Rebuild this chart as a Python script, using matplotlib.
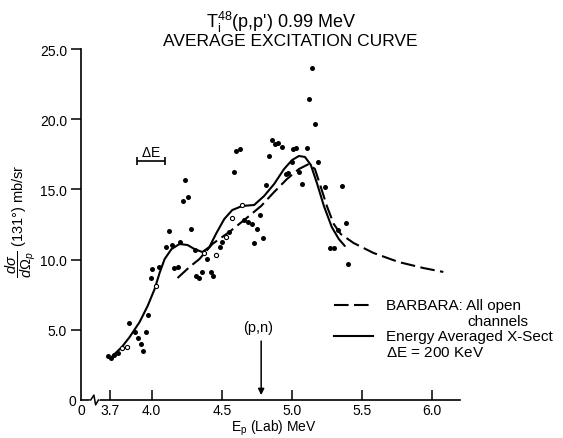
#!/usr/bin/env python3
"""Ti48(p,p') 0.99 MeV average excitation curve."""

import matplotlib
matplotlib.use("Agg")
import matplotlib.pyplot as plt

plt.rcParams["font.family"] = ["Liberation Sans", "DejaVu Sans"]
plt.rcParams["mathtext.fontset"] = "custom"
plt.rcParams["mathtext.rm"] = "Liberation Sans"
plt.rcParams["mathtext.it"] = "Liberation Sans:italic"

# measured points, filled dots
dot_e = [3.688, 3.709, 3.73, 3.76, 3.836, 3.879, 3.90, 3.922, 3.936, 3.957,
         3.971, 3.992, 4.0, 4.05, 4.099, 4.12, 4.141, 4.198, 4.156, 4.184,
         4.22, 4.255, 4.24, 4.283, 4.305, 4.319, 4.34, 4.361, 4.397, 4.425,
         4.439, 4.489, 4.503, 4.553, 4.659, 4.687, 4.716, 4.773, 4.751, 4.794,
         4.73, 4.588, 4.602, 4.631, 4.815, 4.837, 4.858, 4.879, 4.90, 4.929,
         4.957, 4.971, 5.0, 5.007, 5.028, 5.049, 5.07, 5.106, 5.12, 5.141,
         5.163, 5.184, 5.234, 5.354, 5.326, 5.383, 5.269, 5.297, 5.397]
dot_xs = [3.13, 2.99, 3.2, 3.35, 5.48, 4.84, 4.42, 3.99, 3.49, 4.84,
          6.05, 8.69, 9.33, 9.47, 10.9, 12.04, 11.04, 11.25, 9.40, 9.47,
          14.17, 14.46, 15.67, 12.18, 10.7, 8.83, 8.69, 9.12, 10.04, 9.12,
          8.83, 10.9, 11.25, 11.97, 12.82, 12.68, 12.54, 13.18, 12.18, 11.54,
          11.18, 16.24, 17.74, 17.88, 15.31, 17.38, 18.52, 18.23, 18.30, 18.02,
          16.1, 16.17, 16.95, 17.88, 17.95, 16.24, 15.38, 17.95, 21.44, 23.65,
          19.66, 16.95, 15.17, 15.24, 12.11, 12.61, 10.83, 10.83, 9.69]

# open circles
open_e = [3.79, 3.822, 4.028, 4.37, 4.46, 4.531, 4.574, 4.645]
open_xs = [3.70, 3.77, 8.12, 10.5, 10.33, 11.61, 12.96, 13.89]

# energy averaged cross section, dE = 200 keV (solid)
avg_e = [3.72, 3.787, 3.843, 3.914, 3.971, 4.021, 4.056, 4.092, 4.141, 4.198,
         4.255, 4.305, 4.361, 4.411, 4.461, 4.517, 4.574, 4.645, 4.73, 4.801,
         4.872, 4.943, 5.0, 5.049, 5.092, 5.134, 5.177, 5.227, 5.283, 5.333,
         5.376]
avg_xs = [3.13, 3.77, 4.49, 5.56, 6.70, 7.91, 9.05, 10.04, 10.75, 11.11,
          11.04, 10.75, 10.54, 10.90, 11.89, 12.89, 13.53, 13.82, 13.89, 14.53,
          15.38, 16.45, 17.09, 17.38, 17.31, 16.74, 15.46, 13.82, 12.32, 11.47,
          10.97]

# BARBARA, all open channels (dashed)
bar_e = [4.184, 4.269, 4.34, 4.432, 4.553, 4.659, 4.78, 4.872, 4.964, 5.049,
         5.12, 5.163, 5.205, 5.248, 5.297, 5.347, 5.439, 5.581, 5.759, 5.936,
         6.078]
bar_xs = [8.69, 9.47, 10.04, 11.11, 11.97, 12.82, 13.82, 14.81, 15.74, 16.45,
          16.81, 16.45, 15.17, 13.82, 12.54, 11.82, 11.18, 10.47, 9.83, 9.40,
          9.12]

x_ticks = [3.7, 4.0, 4.5, 5.0, 5.5, 6.0]
x_labels = ["3.7", "4.0", "4.5", "5.0", "5.5", "6.0"]
y_ticks = [5, 10, 15, 20, 25]
y_labels = ["5.0", "10.0", "15.0", "20.0", "25.0"]

PN_E = 4.78
DE_LO, DE_HI, DE_Y = 3.893, 4.092, 17.05

W, H = 563, 439
fig = plt.figure(figsize=(W / 100, H / 100), dpi=100)
ax = fig.add_axes([81 / W, 1 - 401 / H, 379 / W, 351 / H])
ax.set_xlim(3.496, 6.197)
ax.set_ylim(0, 25)

dash = (0, (7, 2.6))
ax.plot(avg_e, avg_xs, color="black", lw=1.5, solid_capstyle="round")
ax.plot(bar_e, bar_xs, color="black", lw=1.5, linestyle=dash)
ax.plot(dot_e, dot_xs, "o", color="black", ms=3.6, mew=0)
ax.plot(open_e, open_xs, "o", mfc="white", mec="black", ms=3.0, mew=0.8)

for side in ("top", "right"):
    ax.spines[side].set_visible(False)
for side in ("left", "bottom"):
    ax.spines[side].set_linewidth(1.2)

ax.set_xticks(x_ticks)
ax.set_xticklabels(x_labels)
ax.set_yticks(y_ticks)
ax.set_yticklabels(y_labels)
ax.tick_params(axis="x", direction="in", length=7, width=1.1, labelsize=10, pad=2)
ax.tick_params(axis="y", direction="out", length=7, width=1.1, labelsize=10, pad=3)

# origin labels and axis break
ax.text(-0.012, -0.002, "0", transform=ax.transAxes, ha="right", va="center", fontsize=10)
ax.text(0.002, -0.028, "0", transform=ax.transAxes, ha="center", va="center", fontsize=10)
brk = ax.get_xaxis_transform()
ax.plot([3.575, 3.59, 3.60, 3.612], [0, 0.012, -0.012, 0], color="white", lw=3,
        transform=brk, clip_on=False, zorder=5)
ax.plot([3.565, 3.588, 3.600, 3.62], [0, 0.014, -0.014, 0], color="black", lw=1.1,
        transform=brk, clip_on=False, zorder=6)

# energy resolution marker
ax.errorbar([(DE_LO + DE_HI) / 2], [DE_Y], xerr=[(DE_HI - DE_LO) / 2], color="black",
            lw=1.2, capsize=3, capthick=1.2)
ax.text((DE_LO + DE_HI) / 2, DE_Y + 0.1, r"$\Delta$E", ha="center", va="bottom", fontsize=10)

# (p,n) threshold
ax.annotate("", xy=(PN_E, 0.35), xytext=(PN_E, 4.2),
            arrowprops=dict(arrowstyle="-|>", color="black", lw=1.1,
                            mutation_scale=9, shrinkA=0, shrinkB=0))
ax.text(PN_E - 0.02, 4.7, "(p,n)", ha="center", va="bottom", fontsize=10.5)

# legend
ax.plot([5.297, 5.58], [6.75, 6.75], color="black", lw=1.5, linestyle=dash, clip_on=False)
ax.plot([5.297, 5.58], [4.56, 4.56], color="black", lw=1.5, clip_on=False)
leg_kw = dict(va="center", fontsize=11, clip_on=False)
ax.text(5.67, 6.75, "BARBARA: All open", **leg_kw)
ax.text(6.25, 5.63, "channels", **leg_kw)
ax.text(5.67, 4.56, "Energy Averaged X-Sect", **leg_kw)
ax.text(5.67, 3.40, r"$\Delta$E = 200 KeV", **leg_kw)

# titles and axis labels
fig.text(281 / W, 1 - 22 / H, r"T$_{\rm i}^{48}$(p,p') 0.99 MeV", ha="center",
         va="center", fontsize=13)
fig.text(290 / W, 1 - 42 / H, "AVERAGE EXCITATION CURVE", ha="center", va="center",
         fontsize=12.5)
fig.text(21 / W, 1 - 221 / H, r"$\dfrac{d\sigma}{d\Omega_p}$ (131°) mb/sr", rotation=90,
         ha="center", va="center", fontsize=10.5)
fig.text(274 / W, 1 - 428 / H, r"E$_{\rm p}$ (Lab) MeV", ha="center", va="center", fontsize=10)

fig.savefig("out.png", dpi=100)
